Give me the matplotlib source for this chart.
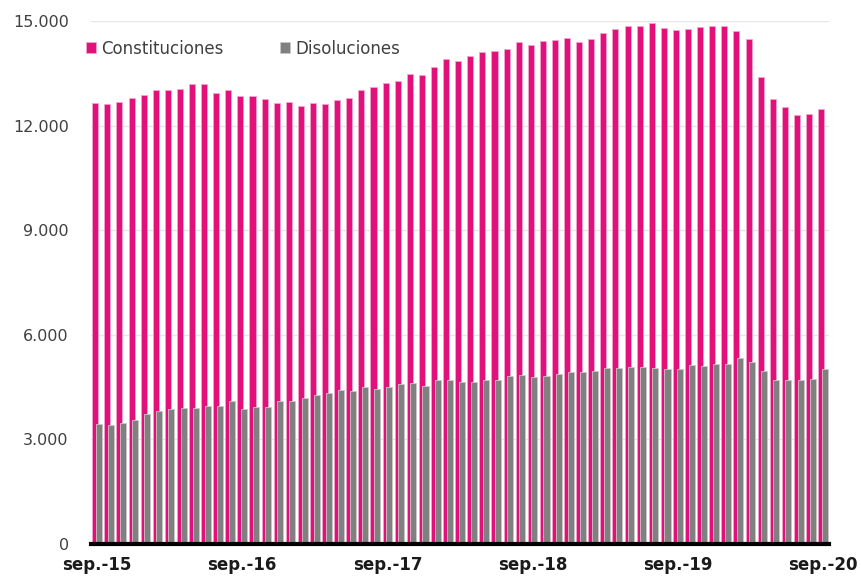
import numpy as np
import matplotlib.pyplot as plt
from matplotlib.ticker import FuncFormatter

plt.rcParams['font.family'] = ['DejaVu Sans']

# datos mensuales sep.-15 ... sep.-20
constituciones = [12660, 12630, 12680, 12780, 12870, 13030, 13010, 13060, 13190, 13190,
                  12930, 13030, 12840, 12840, 12750, 12640, 12670, 12550, 12660, 12630,
                  12730, 12800, 13030, 13100, 13220, 13270, 13480, 13450, 13670, 13920,
                  13860, 13990, 14100, 14130, 14200, 14390, 14320, 14430, 14450, 14500,
                  14410, 14480, 14650, 14780, 14870, 14860, 14940, 14800, 14730, 14780,
                  14820, 14860, 14860, 14710, 14480, 13390, 12750, 12530, 12290, 12330,
                  12480]
disoluciones = [3440, 3420, 3480, 3550, 3720, 3810, 3880, 3900, 3890, 3960,
                3960, 4090, 3880, 3940, 3930, 4090, 4100, 4180, 4260, 4340,
                4430, 4400, 4490, 4450, 4500, 4590, 4620, 4520, 4690, 4710,
                4660, 4660, 4700, 4700, 4820, 4850, 4800, 4810, 4890, 4920,
                4930, 4950, 5050, 5040, 5080, 5070, 5050, 5020, 5010, 5120,
                5110, 5160, 5170, 5330, 5220, 4960, 4700, 4710, 4710, 4720,
                5020]
tick_labels = ['sep.-15', 'sep.-16', 'sep.-17', 'sep.-18', 'sep.-19', 'sep.-20']

rosa = '#E2107B'
gris = '#808080'

fig = plt.figure(figsize=(8.61, 5.77), dpi=100)
ax = fig.add_axes([91/861, 33/577, 738/861, 523/577])

x = np.arange(len(constituciones))
ax.bar(x - 0.15, constituciones, width=0.5, color=rosa, edgecolor='#f3a6cc',
       linewidth=0.6, label='Constituciones', zorder=2)
ax.bar(x + 0.15, disoluciones, width=0.5, color=gris, edgecolor='#c8c8c8',
       linewidth=0.6, label='Disoluciones', zorder=3)

ax.set_xlim(-0.5, len(x) - 0.5)
ax.set_ylim(0, 15000)
ax.set_yticks(np.arange(0, 15001, 3000))
ax.yaxis.set_major_formatter(FuncFormatter(lambda v, p: f'{int(v):,}'.replace(',', '.')))
ax.grid(axis='y', color='#e6e6e6', linewidth=1, zorder=0)
ax.set_axisbelow(True)

ax.set_xticks(x[::12])
ax.set_xticklabels(tick_labels, fontsize=12, fontweight='bold', color='#1a1a1a')
ax.tick_params(axis='x', length=0, pad=9)
ax.tick_params(axis='y', length=0, pad=16, labelsize=11.5, labelcolor='#404040')

for s in ['top', 'right', 'left']:
    ax.spines[s].set_visible(False)
ax.spines['bottom'].set_linewidth(3)
ax.spines['bottom'].set_color('black')
ax.spines['bottom'].set_zorder(4)

ax.legend(loc='upper left', bbox_to_anchor=(-0.027, 0.993), ncol=2, frameon=False,
          fontsize=12, handlelength=0.6, handleheight=0.6, handletextpad=0.3,
          columnspacing=3.4, labelcolor='#404040')

fig.savefig('out.png', dpi=100)
